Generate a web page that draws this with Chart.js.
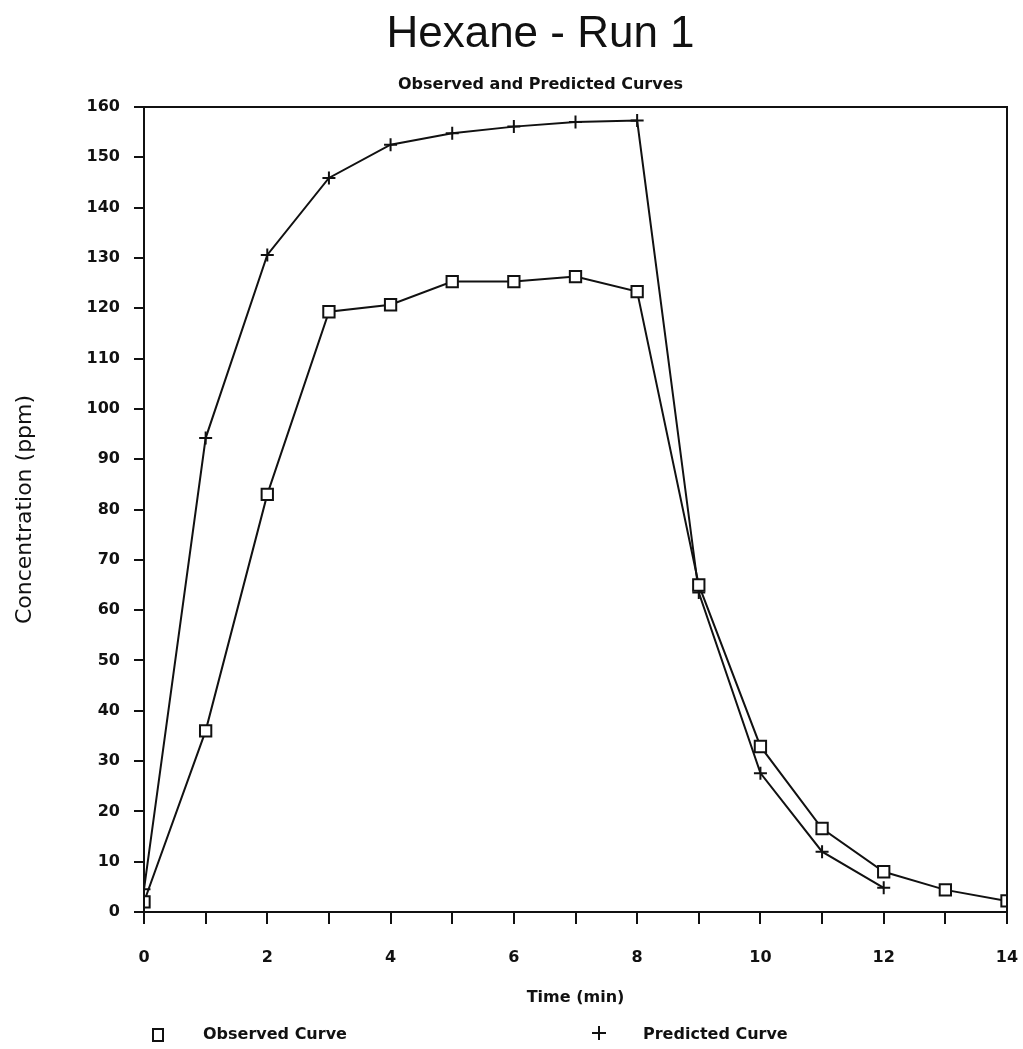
<!DOCTYPE html>
<html>
<head>
<meta charset="utf-8">
<title>Hexane - Run 1</title>
<script src="https://cdn.jsdelivr.net/npm/chart.js@4.4.1/dist/chart.umd.min.js"></script>
<style>
  html, body { margin: 0; padding: 0; background: #fff; overflow: hidden; }
  #wrap { width: 1023px; height: 1049px; position: relative; }
</style>
</head>
<body>
<div id="wrap"><canvas id="hexane-chart"></canvas></div>
<script>
// time in minutes
var timeObserved = [0, 1, 2, 3, 4, 5, 6, 7, 8, 9, 10, 11, 12, 13, 14];
var observed = [2, 36, 83, 119.3, 120.7, 125.3, 125.3, 126.3, 123.3, 65, 32.9, 16.6, 8, 4.4, 2.2];

var timePredicted = [0, 1, 2, 3, 4, 5, 6, 7, 8, 9, 10, 11, 12];
var predicted = [4.5, 94.2, 130.6, 145.9, 152.5, 154.8, 156.1, 157, 157.3, 63.5, 27.6, 12, 4.8];

var seriesLabels = ['Observed Curve', 'Predicted Curve'];

var ink = '#111';
var tickFont = { family: 'DejaVu Sans', size: 16, weight: 'bold' };

function toPoints(xs, ys) {
    var pts = [];
    for (var i = 0; i < xs.length; i++) {
        pts.push({ x: xs[i], y: ys[i] });
    }
    return pts;
}

// box around the plot area
var frameBox = {
    id: 'frameBox',
    afterDraw: function (chart) {
        var a = chart.chartArea;
        var ctx = chart.ctx;
        ctx.save();
        ctx.strokeStyle = ink;
        ctx.lineWidth = 2;
        ctx.strokeRect(a.left, a.top, a.right - a.left, a.bottom - a.top);
        ctx.restore();
    }
};

// legend laid out like the original plot footer
var footLegend = {
    id: 'footLegend',
    afterDraw: function (chart) {
        var ctx = chart.ctx;
        var ds = chart.data.datasets;
        ctx.save();
        ctx.strokeStyle = ink;
        ctx.fillStyle = ink;
        ctx.lineWidth = 2;
        // observed marker
        ctx.strokeRect(153, 1029, 10, 12);
        // predicted marker
        ctx.beginPath();
        ctx.moveTo(599, 1026); ctx.lineTo(599, 1040);
        ctx.moveTo(592, 1033); ctx.lineTo(606, 1033);
        ctx.stroke();
        ctx.font = 'bold 16px "DejaVu Sans"';
        ctx.textBaseline = 'middle';
        ctx.textAlign = 'left';
        ctx.fillText(ds[0].label, 203, 1035);
        ctx.fillText(ds[1].label, 643, 1035);
        ctx.restore();
    }
};

var ctx = document.getElementById('hexane-chart').getContext('2d');

var hexaneChart = new Chart(ctx, {
    type: 'line',
    data: {
        datasets: [{
            label: seriesLabels[0],
            data: toPoints(timeObserved, observed),
            borderColor: ink,
            borderWidth: 2,
            pointStyle: 'rect',
            pointRadius: 8,
            pointBorderWidth: 2,
            pointBorderColor: ink,
            pointBackgroundColor: '#fff',
            tension: 0
        }, {
            label: seriesLabels[1],
            data: toPoints(timePredicted, predicted),
            borderColor: ink,
            borderWidth: 2,
            pointStyle: 'cross',
            pointRadius: 6.5,
            pointBorderWidth: 2,
            pointBorderColor: ink,
            tension: 0
        }]
    },
    options: {
        responsive: true,
        maintainAspectRatio: false,
        animation: false,
        layout: {
            padding: { top: 8, left: 74, right: 16, bottom: 34 }
        },
        plugins: {
            legend: { display: false },
            tooltip: { enabled: false },
            title: {
                display: true,
                text: 'Hexane - Run 1',
                color: ink,
                font: { family: '"Liberation Sans", Arial, sans-serif', size: 44, weight: 'normal' },
                padding: { top: 0, bottom: 0 }
            },
            subtitle: {
                display: true,
                text: 'Observed and Predicted Curves',
                color: ink,
                font: { family: 'DejaVu Sans', size: 16, weight: 'bold' },
                padding: { top: 14, bottom: 13 }
            }
        },
        scales: {
            x: {
                type: 'linear',
                min: 0,
                max: 14,
                border: { color: ink, width: 2 },
                grid: {
                    drawOnChartArea: false,
                    drawTicks: true,
                    tickLength: 12,
                    color: ink,
                    lineWidth: 2
                },
                ticks: {
                    stepSize: 1,
                    autoSkip: false,
                    maxRotation: 0,
                    padding: 24,
                    color: ink,
                    font: tickFont,
                    callback: function (v) { return v % 2 === 0 ? v : ''; }
                },
                title: {
                    display: true,
                    text: 'Time (min)',
                    color: ink,
                    font: { family: 'DejaVu Sans', size: 16, weight: 'bold' },
                    padding: { top: 0, bottom: 8 }
                },
                afterFit: function (scale) {
                    scale.height = 103;
                    scale.paddingLeft = 0;
                    scale.paddingRight = 9;
                }
            },
            y: {
                min: 0,
                max: 160,
                border: { color: ink, width: 2 },
                grid: {
                    drawOnChartArea: false,
                    drawTicks: true,
                    tickLength: 10,
                    color: ink,
                    lineWidth: 2
                },
                ticks: {
                    stepSize: 10,
                    padding: 14,
                    color: ink,
                    font: tickFont
                },
                title: {
                    display: true,
                    text: 'Concentration (ppm)',
                    color: ink,
                    font: { family: 'DejaVu Sans', size: 22, weight: 'normal' },
                    padding: { top: -62, bottom: 0 }
                },
                afterFit: function (scale) {
                    scale.width = 70;
                }
            }
        }
    },
    plugins: [frameBox, footLegend]
});
</script>
</body>
</html>
